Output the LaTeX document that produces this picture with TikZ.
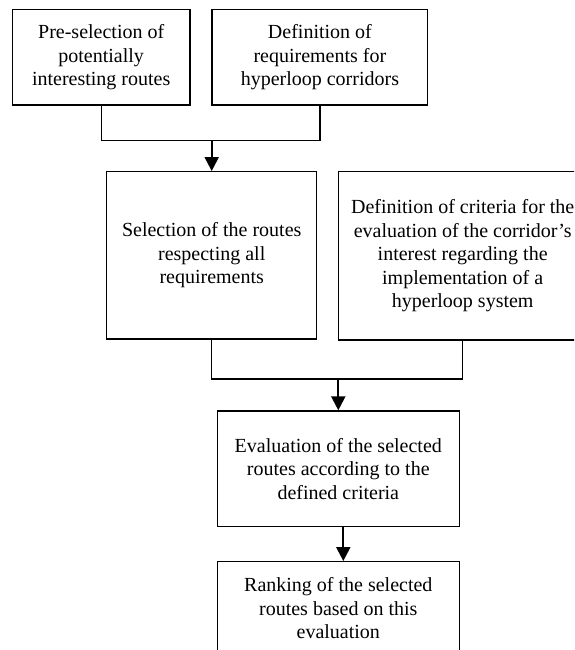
\documentclass[tikz,border=0pt]{standalone}
\usepackage{fontspec}
\setmainfont{Liberation Serif}
\usetikzlibrary{arrows.meta}
\begin{document}
\begin{tikzpicture}[x=1pt,y=-1pt,
  box/.style={draw,line width=1.3pt,align=center,inner sep=0pt,
    font=\fontsize{20}{23.5}\selectfont},
  link/.style={line width=1.3pt,line join=miter},
  arr/.style={line width=2.2pt,-{Triangle[width=14pt,length=14pt]}}]
\useasboundingbox (0,0) rectangle (574,650);
\fill[white] (0,0) rectangle (574,650);
\clip (0,0) rectangle (574,650);
\node[box,minimum width=177.7pt,minimum height=95.7pt] (A) at (101.2,57.2)
  {Pre-selection of\\potentially\\interesting routes};
\node[box,minimum width=215.7pt,minimum height=95.7pt] (B) at (319.9,57.2)
  {Definition of\\requirements for\\hyperloop corridors};
\node[box,minimum width=210pt,minimum height=167.3pt] (C) at (211.7,255.3)
  {Selection of the routes\\respecting all\\requirements};
\node[box,minimum width=248.7pt,minimum height=168.3pt] (D) at (462.7,255.8)
  {Definition of criteria for the\\evaluation of the corridor's\\interest regarding the\\implementation of a\\hyperloop system};
\node[box,minimum width=242pt,minimum height=115.7pt] (E) at (338.3,468.8)
  {Evaluation of the selected\\routes according to the\\defined criteria};
\node[box,minimum width=242pt,minimum height=93.3pt] (F) at (338.3,608.3)
  {Ranking of the selected\\routes based on this\\evaluation};
\coordinate (h1) at (0,140.7);
\coordinate (h2) at (0,379);
\coordinate (j1) at (C.north |- h1);
\coordinate (j2) at (E.north |- h2);
\draw[link] (A.south) |- (j1);
\draw[link] (B.south) |- (j1);
\draw[arr] (j1) -- (C.north);
\draw[link] (C.south) |- (j2);
\draw[link] (D.south) |- (j2);
\draw[arr] (j2) -- (E.north);
\draw[arr] ([xshift=5pt]E.south) -- ([xshift=5pt]F.north);
\end{tikzpicture}
\end{document}
